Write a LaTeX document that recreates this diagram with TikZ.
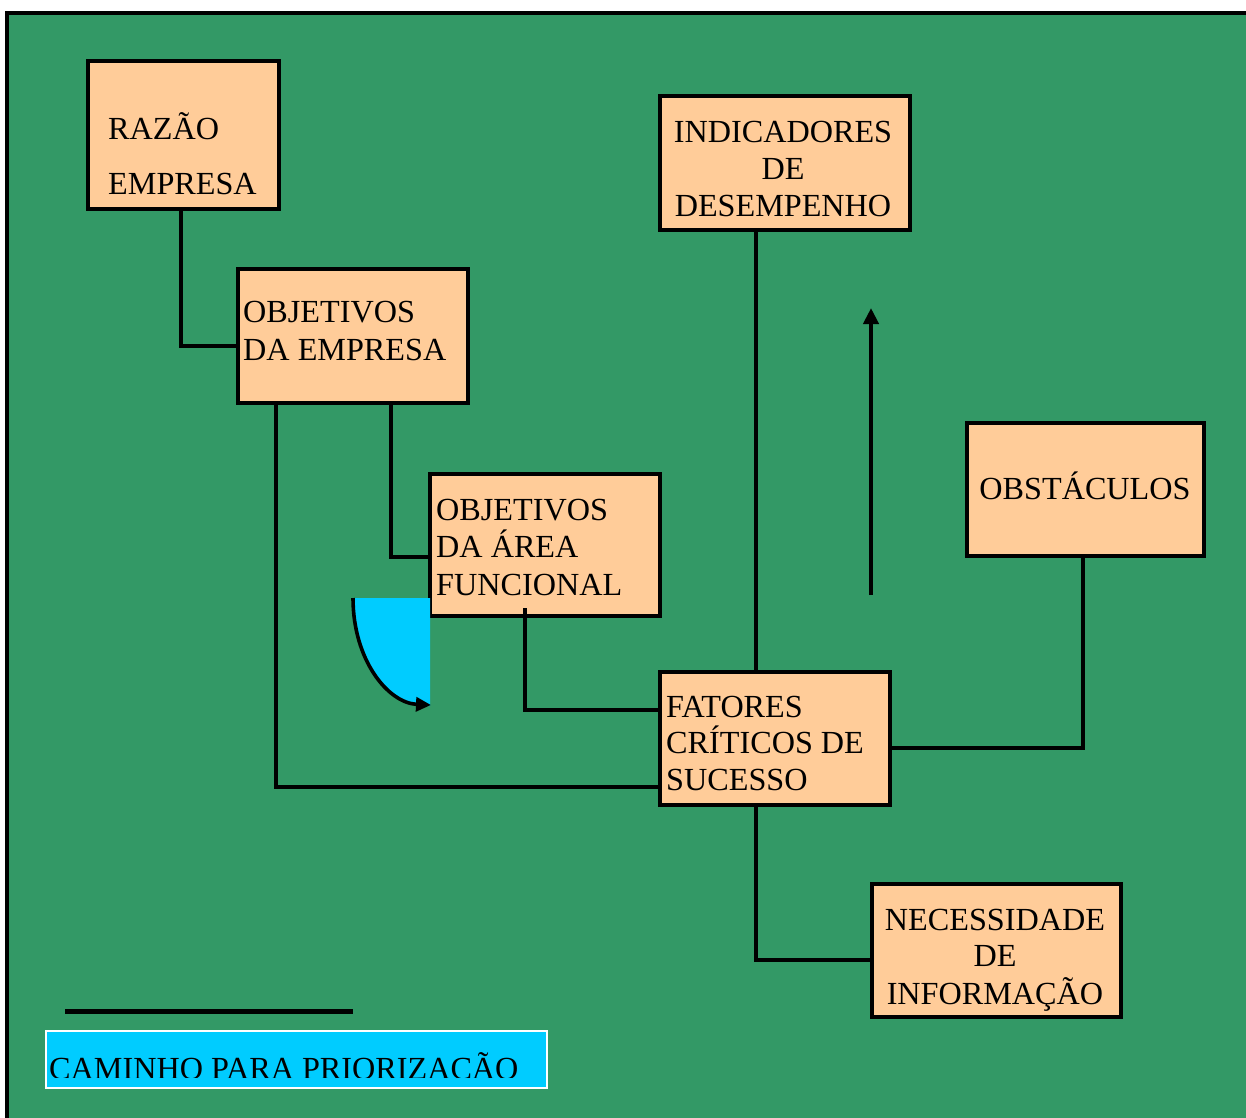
\documentclass[tikz,border=0pt]{standalone}
\usepackage{fontspec}
\setmainfont{Liberation Serif}
\usetikzlibrary{arrows.meta}
\definecolor{bggreen}{RGB}{51,153,102}
\definecolor{peach}{RGB}{255,204,153}
\definecolor{skyc}{RGB}{0,204,255}
\begin{document}
\begin{tikzpicture}[x=1pt,y=-1pt,
  box/.style={draw=black, fill=peach, line width=3.6pt, inner sep=0pt},
  conn/.style={draw=black, line width=3.6pt},
  txt/.style={inner sep=0pt, font=\fontsize{32.2}{37}\selectfont},
  tl/.style={txt, anchor=base west},
  tc/.style={txt, anchor=base},
]
\useasboundingbox (0,0) rectangle (1246,1117);
\fill[white] (0,0) rectangle (1246,1117);
\draw[fill=bggreen, line width=4.5pt] (7,13) rectangle (1270,1140);

% boxes
\node[box, minimum width=191, minimum height=148] (razao) at (183.5,135) {};
\node[box, minimum width=230, minimum height=134] (objemp) at (353,336) {};
\node[box, minimum width=230, minimum height=142] (objarea) at (545,545) {};
\node[box, minimum width=250, minimum height=134] (indic) at (785,163) {};
\node[box, minimum width=237, minimum height=133] (obst) at (1085.5,489.5) {};
\node[box, minimum width=230, minimum height=133] (fat) at (775,738.5) {};
\node[box, minimum width=249, minimum height=133] (nec) at (996.5,950.5) {};

% helper coordinates for connector routes
\coordinate (j1) at (181,346);
\coordinate (j2) at (391,557);
\coordinate (j3) at (276,787);
\coordinate (j4) at (525,710);
\coordinate (j4s) at (525,608);
\coordinate (j5) at (756,0);
\coordinate (j6) at (1083,748);
\coordinate (j7) at (756,960);

% connectors
\draw[conn] (razao.south -| j1) |- (objemp.west |- j1);
\draw[conn] (objemp.south -| j2) |- (objarea.west |- j2);
\draw[conn] (objemp.south -| j3) |- (fat.west |- j3);
\draw[conn] (j4s) |- (fat.west |- j4);
\draw[conn] (fat.north -| j5) -- (indic.south -| j5);
\draw[conn] (fat.east |- j6) -| (obst.south -| j6);
\draw[conn] (fat.south -| j7) |- (nec.west |- j7);

% upward arrow
\coordinate (a1) at (871,595);
\coordinate (a2) at (871,308);
\draw[line width=4.5pt, -{Triangle[length=16pt,width=15pt]}] (a1) -- (a2);

% blue curved shape
\fill[skyc] (352,598) -- (430,598) -- (430,706) .. controls (386,706) and (352,658) .. (352,598) -- cycle;
\coordinate (q1) at (353,598);
\coordinate (q2) at (431,705);
\draw[line width=3.6pt, -{Triangle[length=15pt,width=14pt]}] (q1) .. controls (353,660) and (388,703) .. (q2);

% texts
\node[tl] (t1a) at (108,139) {RAZÃO};
\node[tl] (t1b) at (108,194) {EMPRESA};
\node[tl] (t2a) at (243,322) {OBJETIVOS};
\node[tl] (t2b) at (243,360) {DA EMPRESA};
\node[tl] (t3a) at (436,520) {OBJETIVOS};
\node[tl] (t3b) at (436,557) {DA ÁREA};
\node[tl] (t3c) at (436,595) {FUNCIONAL};
\node[tc] (t4a) at (783,142) {INDICADORES};
\node[tc] (t4b) at (783,179) {DE};
\node[tc] (t4c) at (783,216) {DESEMPENHO};
\node[tc] (t5a) at (1085,499) {OBSTÁCULOS};
\node[tl] (t6a) at (666,717) {FATORES};
\node[tl] (t6b) at (666,753) {CRÍTICOS DE};
\node[tl] (t6c) at (666,790) {SUCESSO};
\node[tc] (t7a) at (995,930) {NECESSIDADE};
\node[tc] (t7b) at (995,966) {DE};
\node[tc] (t7c) at (995,1004) {INFORMAÇÃO};

% legend
\coordinate (l1) at (65,1011);
\coordinate (l2) at (353,1011);
\draw[line width=5pt] (l1) -- (l2);
\node[draw=white, fill=skyc, line width=2pt, minimum width=501, minimum height=57, inner sep=0pt] (legend) at (296.5,1059.5) {};
\begin{scope}
  \clip (46,1031) rectangle (547,1077);
  \node[tl] (cam) at (49,1079) {CAMINHO PARA PRIORIZAÇÃO};
\end{scope}
\end{tikzpicture}
\end{document}
